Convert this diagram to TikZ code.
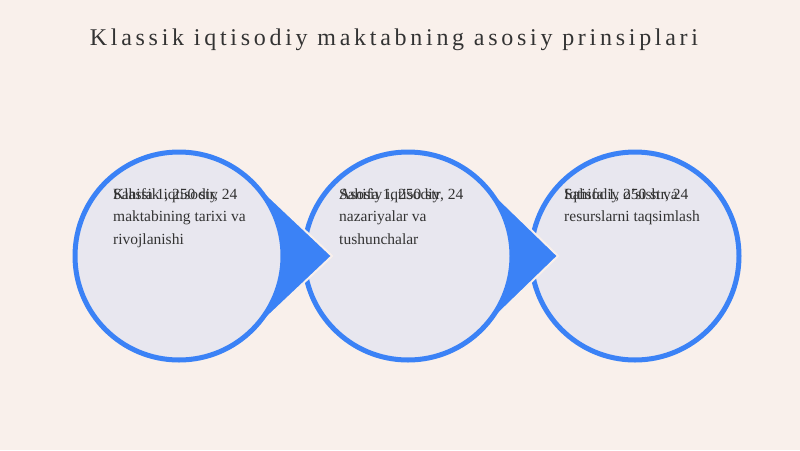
\documentclass[tikz,border=0pt]{standalone}
\usepackage{fontspec}
\setmainfont{Liberation Serif}
\newfontfamily\titlefont[LetterSpace=15.5]{Liberation Serif}
\definecolor{bg}{HTML}{F9F0EB}
\definecolor{disc}{HTML}{E8E7EF}
\definecolor{ring}{HTML}{3B82F6}
\definecolor{ink}{HTML}{333333}
\tikzset{
  disk/.style={circle, draw=ring, fill=disc, line width=5pt, minimum size=208pt, inner sep=0pt},
  pointer/.style={fill=ring, draw=bg, line width=2pt, line join=miter},
  body/.style={anchor=north west, inner sep=0pt, align=left, text=ink,
    font=\fontsize{15.5}{22.5}\selectfont},
}
\begin{document}
\begin{tikzpicture}[x=1pt,y=-1pt]
\fill[bg] (0,0) rectangle (800,450);
\useasboundingbox (0,0) rectangle (800,450);
\node[text=ink, font=\titlefont\fontsize{24}{28}\selectfont] (title) at (394,40) {Klassik iqtisodiy maktabning asosiy prinsiplari};
% third circle
\node[disk] (c3) at (635,256) {};
% pointer from circle 2
\coordinate (t2) at (558,256);
\coordinate (u2) at (479.6,180);
\coordinate (l2) at (479.6,332);
\draw[pointer] (u2) -- (t2) -- (l2) -- cycle;
\node[disk] (c2) at (408,256) {};
% pointer from circle 1
\coordinate (t1) at (332,256);
\coordinate (u1) at (251.6,180);
\coordinate (l1) at (251.6,332);
\draw[pointer] (u1) -- (t1) -- (l1) -- cycle;
\node[disk] (c1) at (179,256) {};
% texts
\node[body] (s1) at (113,188.5) {Sahifa 1, 250 str, 24};
\node[body] (x1) at (113,188.5) {Klassik iqtisodiy\\maktabining tarixi va\\rivojlanishi};
\node[body] (s2) at (339,188.5) {Sahifa 1, 250 str, 24};
\node[body] (x2) at (339,188.5) {Asosiy iqtisodiy\\nazariyalar va\\tushunchalar};
\node[body] (s3) at (564,188.5) {Sahifa 1, 250 str, 24};
\node[body] (x3) at (564,188.5) {Iqtisodiy o'sish va\\resurslarni taqsimlash};
\end{tikzpicture}
\end{document}
